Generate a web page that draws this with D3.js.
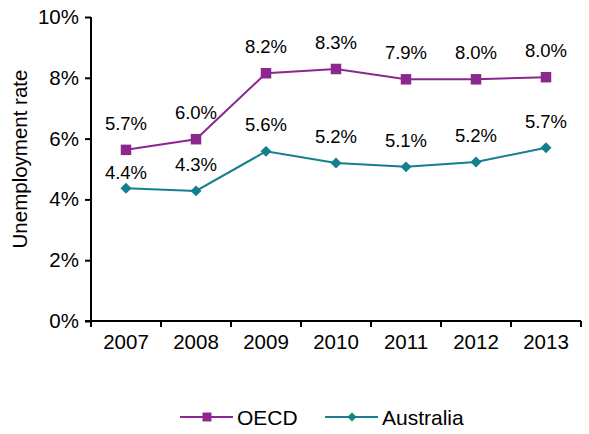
<!DOCTYPE html>
<html><head><meta charset="utf-8">
<script src="https://cdn.jsdelivr.net/npm/d3@7"></script>
<style>body{margin:0;background:#fff}svg{display:block}text{font-family:"Liberation Sans",Arial,sans-serif;fill:#000}</style>
</head><body><svg id="c" width="589" height="434"></svg>
<script>
const years = ["2007","2008","2009","2010","2011","2012","2013"];
const oecd = [5.63, 5.98, 8.15, 8.29, 7.95, 7.95, 8.02];
const oecdLabels = ["5.7%","6.0%","8.2%","8.3%","7.9%","8.0%","8.0%"];
const australia = [4.37, 4.28, 5.58, 5.2, 5.07, 5.23, 5.7];
const australiaLabels = ["4.4%","4.3%","5.6%","5.2%","5.1%","5.2%","5.7%"];
const yTicks = [0, 2, 4, 6, 8, 10];

const svg = d3.select("#c");
const m = {l: 91, r: 581, t: 17, b: 321};
const x = d3.scaleBand().domain(years).range([m.l, m.r]);
const y = d3.scaleLinear().domain([0, 10]).range([m.b, m.t]);
const cx = d => x(d) + x.bandwidth()/2;

const purple = "#8C278E", teal = "#137F8F";

// y axis
const ya = svg.append("g").attr("transform", `translate(${m.l},0)`)
  .call(d3.axisLeft(y).tickValues(yTicks).tickFormat(d => d + "%").tickSize(6).tickPadding(6));
ya.select(".domain").attr("stroke", "#000").attr("stroke-width", 2).attr("d", `M0,${m.t}V${m.b}`);
ya.selectAll(".tick line").attr("stroke", "#000").attr("stroke-width", 2);
ya.selectAll("text").style("font-size", "20.5px").attr("fill", "#000");

// x axis
const xa = svg.append("g").attr("transform", `translate(0,${m.b})`)
  .call(d3.axisBottom(x).tickSize(0).tickPadding(13));
xa.select(".domain").attr("stroke", "#000").attr("stroke-width", 2).attr("d", `M${m.l-6},0H${m.r}`);
xa.selectAll("text").style("font-size", "20.5px").attr("fill", "#000");
const bounds = years.map(d => x(d)).concat([m.r]);
xa.selectAll(".btick").data(bounds).enter().append("line")
  .attr("x1", d => d).attr("x2", d => d).attr("y1", 0).attr("y2", 6)
  .attr("stroke", "#000").attr("stroke-width", 2);

// y title
svg.append("text").attr("transform", `translate(27,${(m.t+m.b)/2 - 10}) rotate(-90)`)
  .attr("text-anchor", "middle").style("font-size", "20.5px").text("Unemployment rate");

const line = d3.line().x((d, i) => cx(years[i])).y(d => y(d));

function series(vals, col, kind) {
  svg.append("path").datum(vals).attr("d", line).attr("fill", "none").attr("stroke", col).attr("stroke-width", 2);
  svg.selectAll(null).data(vals).enter().append("path")
    .attr("transform", (d, i) => `translate(${cx(years[i])},${y(d)})` + (kind === "diamond" ? " rotate(45)" : ""))
    .attr("d", d3.symbol().type(d3.symbolSquare).size(kind === "diamond" ? 60 : 110))
    .attr("fill", col);
}
series(oecd, purple, "square");
series(australia, teal, "diamond");

svg.selectAll(null).data(oecd).enter().append("text")
  .attr("x", (d, i) => cx(years[i])).attr("y", d => y(d) - 20)
  .attr("text-anchor", "middle").style("font-size", "18.5px").text((d, i) => oecdLabels[i]);
svg.selectAll(null).data(australia).enter().append("text")
  .attr("x", (d, i) => cx(years[i]))
  .attr("y", (d, i) => Math.max(y(d) - 20, y(oecd[i]) + 29))
  .attr("text-anchor", "middle").style("font-size", "18.5px").text((d, i) => australiaLabels[i]);

// legend
const leg = [{name: "OECD", col: purple, kind: "square", x: 180}, {name: "Australia", col: teal, kind: "diamond", x: 325}];
const lg = svg.selectAll(".leg").data(leg).enter().append("g").attr("transform", d => `translate(${d.x},417)`);
lg.append("line").attr("x1", 0).attr("x2", 53).attr("stroke", d => d.col).attr("stroke-width", 2);
lg.append("path").attr("transform", d => "translate(27,0)" + (d.kind === "diamond" ? " rotate(45)" : ""))
  .attr("d", d => d3.symbol().type(d3.symbolSquare).size(d.kind === "diamond" ? 40 : 80)()).attr("fill", d => d.col);
lg.append("text").attr("x", 57).attr("y", 7.5).style("font-size", "21px").text(d => d.name);
</script></body></html>
